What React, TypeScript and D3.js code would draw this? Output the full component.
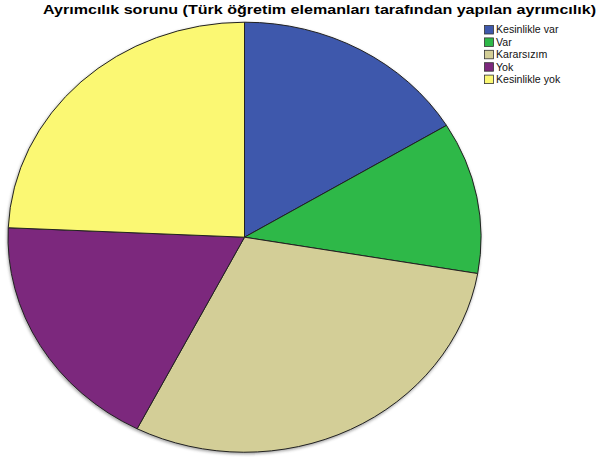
import React from "react";
import * as d3 from "d3";

const title = "Ayrımcılık sorunu (Türk öğretim elemanları tarafından yapılan ayrımcılık)";
const categories = ["Kesinlikle var", "Var", "Kararsızım", "Yok", "Kesinlikle yok"];
const values = [16.3, 11.4, 29.8, 18.2, 24.3];
const colors = ["#3E58AC", "#2EB848", "#D3CE97", "#7C287D", "#FBF873"];

export default function App() {
  const W = 598, H = 457;
  const cx = 244.5, cy = 237.2, rx = 236.5, ry = 215;
  const pie = d3.pie<number>().sort(null).value((d) => d);
  const arcs = pie(values);
  const arc = d3.arc<d3.PieArcDatum<number>>().innerRadius(0).outerRadius(1);
  return (
    <svg width={W} height={H} style={{ position: "absolute", left: 0, top: 0, background: "#fff" }}
      fontFamily="'Liberation Sans', Arial, sans-serif">
      <defs>
        <filter id="sh" x="-10%" y="-10%" width="120%" height="120%">
          <feGaussianBlur stdDeviation="1.5" />
        </filter>
      </defs>
      <text x={43} y={14} fontSize={13.2} fontWeight="bold" fill="#000" textLength={553} lengthAdjust="spacingAndGlyphs">{title}</text>
      <ellipse cx={cx - 0.5} cy={cy + 1.5} rx={rx + 0.5} ry={ry + 0.5} fill="#666" opacity={0.6} filter="url(#sh)" />
      <g transform={`translate(${cx},${cy}) scale(${rx},${ry})`}>
        {arcs.map((a, i) => (
          <path key={i} d={arc(a) || ""} fill={colors[i]} stroke="#222" strokeWidth={1}
            vectorEffect="non-scaling-stroke" strokeLinejoin="round" />
        ))}
      </g>
      <g transform="translate(484,25)">
        {categories.map((c, i) => (
          <g key={c} transform={`translate(0,${i * 12.4})`}>
            <rect x={0.5} y={0.5} width={9} height={8.5} fill={colors[i]} stroke="#333" strokeWidth={0.8} />
            <text x={12} y={8.3} fontSize={10.6} fill="#111">{c}</text>
          </g>
        ))}
      </g>
    </svg>
  );
}
